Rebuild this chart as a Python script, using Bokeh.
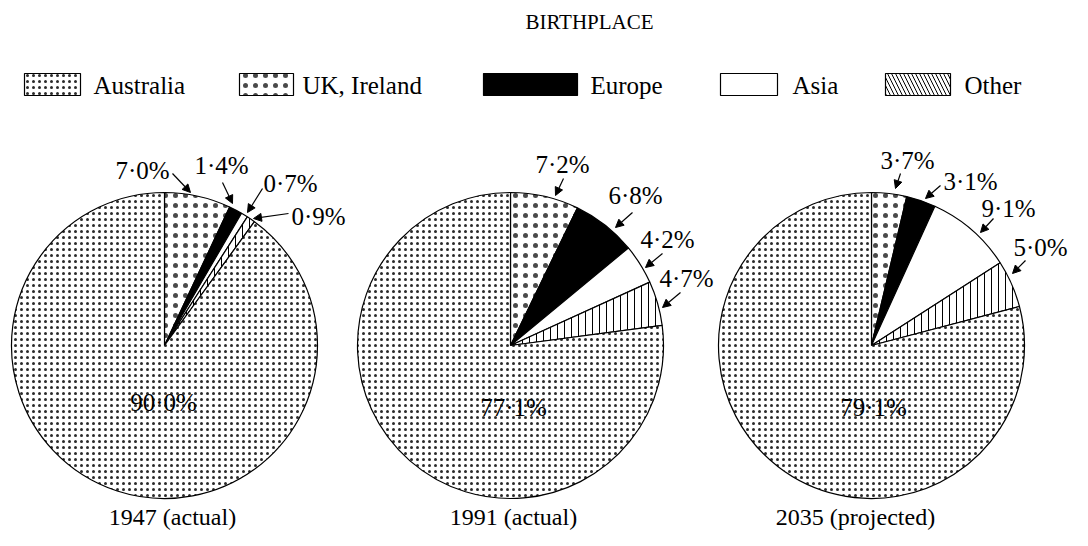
from bokeh.plotting import figure
from bokeh.models import Range1d, ColumnDataSource, Arrow, NormalHead
from bokeh.embed import file_html
from bokeh.resources import INLINE
from bokeh.core.properties import value

# ---------------- data ----------------
title_text = "BIRTHPLACE"
pie_titles = ["1947 (actual)", "1991 (actual)", "2035 (projected)"]
slice_order = ["UK, Ireland", "Europe", "Asia", "Other", "Australia"]
legend_order = ["Australia", "UK, Ireland", "Europe", "Asia", "Other"]
uk_ireland = [7.0, 7.2, 3.7]
europe = [1.4, 6.8, 3.1]
asia = [0.7, 4.2, 9.1]
other = [0.9, 4.7, 5.0]
australia = [90.0, 77.1, 79.1]
values_by_cat = {"UK, Ireland": uk_ireland, "Europe": europe, "Asia": asia,
                 "Other": other, "Australia": australia}

# ---------------- layout (image pixel coords, y down) ----------------
W, H = 1072, 530
centers_x = [164, 510, 871]
center_y = 345
radius = 153
FONT = value("Liberation Serif")

def Y(img_y):
    return H - img_y

# callout offsets relative to pie centre: (label dx,dy), (tail dx,dy), (tip dx,dy)
callouts = [
    {"UK, Ireland": ((-22, -175), (8, -172), (26, -153)),
     "Europe": ((57, -180), (58, -163), (68, -142)),
     "Asia": ((126, -162), (98, -157), (83, -133)),
     "Other": ((154, -129), (124, -132), (89, -127))},
    {"UK, Ireland": ((52, -181), (53, -167), (45, -150)),
     "Europe": ((125, -150), (122, -133), (105, -118)),
     "Asia": ((157, -106), (152, -92), (135, -78)),
     "Other": ((176, -67), (170, -53), (152, -38))},
    {"UK, Ireland": ((36, -185), (29, -172), (24, -157)),
     "Europe": ((99, -164), (69, -160), (54, -147)),
     "Asia": ((137, -137), (122, -127), (109, -113)),
     "Other": ((169, -98), (154, -85), (141, -72))},
]
inner_dx = [-1, 3, 2]
inner_dy = [57, 62, 62]
pie_title_x = [172, 513, 855]
pie_title_y = 516

styles = {
    "Australia": dict(fill_color="white", hatch_pattern="dot", hatch_scale=6, hatch_weight=0.8, hatch_color="#2a2a2a"),
    "UK, Ireland": dict(fill_color="white", hatch_pattern="dot", hatch_scale=10, hatch_weight=0.5, hatch_color="#4a4a4a"),
    "Europe": dict(fill_color="black"),
    "Asia": dict(fill_color="white"),
    "Other": dict(fill_color="white", hatch_pattern="vertical_line", hatch_scale=7, hatch_weight=1, hatch_color="black"),
}
legend_style_other = dict(fill_color="white", hatch_pattern="left_diagonal_line", hatch_scale=8, hatch_weight=1, hatch_color="black")

legend_box_left = [24, 239, 483, 720, 885]
legend_box_right = [80, 293, 577, 777, 950]
legend_text_x = [93, 302, 590, 792, 964]
legend_top, legend_bottom, legend_mid = 73, 95, 85

p = figure(width=W, height=H, x_range=Range1d(0, W), y_range=Range1d(0, H),
           output_backend="svg", toolbar_location=None, min_border=0,
           x_axis_type=None, y_axis_type=None)
p.grid.visible = False
p.outline_line_color = None
p.background_fill_color = "white"

# ---------------- pies ----------------
cum = [0.0, 0.0, 0.0]
for cat in slice_order:
    vals = values_by_cat[cat]
    starts = [90 - c * 3.6 for c in cum]
    ends = [90 - (c + v) * 3.6 for c, v in zip(cum, vals)]
    cum = [c + v for c, v in zip(cum, vals)]
    src = ColumnDataSource(dict(x=centers_x, y=[Y(center_y)] * 3, s=starts, e=ends))
    p.wedge(x="x", y="y", radius=radius, start_angle="s", end_angle="e",
            start_angle_units="deg", end_angle_units="deg", direction="clock",
            line_color="black", line_width=1.2, source=src, **styles[cat])

# ---------------- callouts ----------------
lab_x, lab_y, lab_t = [], [], []
ax0, ay0, ax1, ay1 = [], [], [], []
for i, cx in enumerate(centers_x):
    for cat in ["UK, Ireland", "Europe", "Asia", "Other"]:
        (lx, ly), (tx, ty), (px, py) = callouts[i][cat]
        v = values_by_cat[cat][i]
        lab_x.append(cx + lx)
        lab_y.append(Y(center_y + ly))
        lab_t.append(f"{v:.1f}%".replace(".", "·"))
        ax0.append(cx + tx); ay0.append(Y(center_y + ty))
        ax1.append(cx + px); ay1.append(Y(center_y + py))
    lab_x.append(cx + inner_dx[i])
    lab_y.append(Y(center_y + inner_dy[i]))
    lab_t.append(f"{australia[i]:.1f}%".replace(".", "·"))

p.text(x=lab_x, y=lab_y, text=lab_t, text_font=FONT, text_font_size="25px",
       text_align="center", text_baseline="middle", text_color="black")

arrow_src = ColumnDataSource(dict(x0=ax0, y0=ay0, x1=ax1, y1=ay1))
p.add_layout(Arrow(x_start="x0", y_start="y0", x_end="x1", y_end="y1", source=arrow_src,
                   line_color="black", line_width=1.2,
                   end=NormalHead(size=8, fill_color="black", line_color="black", line_width=1)))

# ---------------- pie titles ----------------
p.text(x=pie_title_x, y=[Y(pie_title_y)] * 3, text=pie_titles, text_font=FONT,
       text_font_size="24px", text_align="center", text_baseline="middle", text_color="black")

# ---------------- title ----------------
p.text(x=[589], y=[Y(21)], text=[title_text], text_font=FONT, text_font_size="21px",
       text_align="center", text_baseline="middle", text_color="black")

# ---------------- legend ----------------
for j, cat in enumerate(legend_order):
    st = legend_style_other if cat == "Other" else styles[cat]
    p.quad(left=[legend_box_left[j]], right=[legend_box_right[j]],
           top=[Y(legend_top)], bottom=[Y(legend_bottom)],
           line_color="black", line_width=1.2, **st)
p.text(x=legend_text_x, y=[Y(legend_mid)] * 5, text=legend_order, text_font=FONT,
       text_font_size="25px", text_align="left", text_baseline="middle", text_color="black")

open("out.html", "w").write(file_html(p, INLINE))
